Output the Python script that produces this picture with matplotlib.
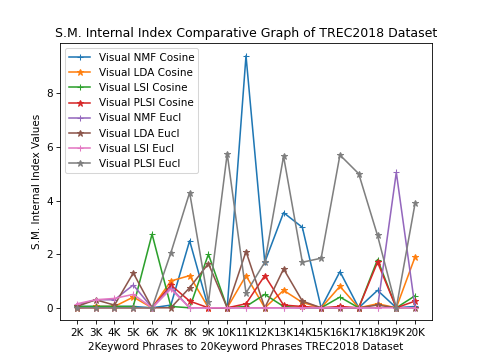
import matplotlib
matplotlib.use("Agg")
import matplotlib.pyplot as plt

categories = ["2K", "3K", "4K", "5K", "6K", "7K", "8K", "9K", "10K", "11K",
              "12K", "13K", "14K", "15K", "16K", "17K", "18K", "19K", "20K"]

nmf_cos  = [0.05, 0.05, 0.05, 0.05, 0.0, 0.1, 2.5, 0.0, 0.0, 9.4, 1.7, 3.55, 3.0, 0.0, 1.35, 0.0, 0.65, 0.0, 0.05]
lda_cos  = [0.0, 0.05, 0.05, 0.4, 0.0, 1.0, 1.2, 0.0, 0.0, 1.2, 0.0, 0.65, 0.2, 0.0, 0.8, 0.0, 0.15, 0.0, 1.9]
lsi_cos  = [0.05, 0.05, 0.05, 0.05, 2.75, 0.05, 0.0, 2.0, 0.0, 0.05, 0.5, 0.05, 0.0, 0.0, 0.4, 0.0, 1.8, 0.0, 0.45]
plsi_cos = [0.0, 0.0, 0.0, 0.0, 0.0, 0.85, 0.25, 0.0, 0.0, 0.15, 1.2, 0.1, 0.05, 0.0, 0.05, 0.0, 1.7, 0.0, 0.25]
nmf_eu   = [0.1, 0.3, 0.3, 0.85, 0.0, 0.75, 0.0, 0.0, 0.0, 0.0, 0.0, 0.0, 0.0, 0.0, 0.0, 0.0, 0.0, 5.05, 0.0]
lda_eu   = [0.05, 0.3, 0.1, 1.3, 0.0, 0.0, 0.75, 1.65, 0.0, 2.1, 0.0, 1.45, 0.25, 0.0, 0.0, 0.0, 0.1, 0.0, 0.0]
lsi_eu   = [0.15, 0.3, 0.35, 0.5, 0.0, 0.7, 0.0, 0.0, 0.0, 0.0, 0.0, 0.0, 0.0, 0.0, 0.0, 0.0, 0.0, 0.0, 0.0]
plsi_eu  = [0.0, 0.0, 0.0, 0.0, 0.0, 2.05, 4.3, 0.2, 5.75, 0.55, 1.7, 5.65, 1.7, 1.85, 5.7, 5.0, 2.7, 0.0, 3.9]

series = [
    ("Visual NMF Cosine", nmf_cos, "+"),
    ("Visual LDA Cosine", lda_cos, "*"),
    ("Visual LSI Cosine", lsi_cos, "+"),
    ("Visual PLSI Cosine", plsi_cos, "*"),
    ("Visual NMF Eucl", nmf_eu, "+"),
    ("Visual LDA Eucl", lda_eu, "*"),
    ("Visual LSI Eucl", lsi_eu, "+"),
    ("Visual PLSI Eucl", plsi_eu, "*"),
]

fig, ax = plt.subplots(figsize=(6.4, 4.8), dpi=75)
for label, vals, m in series:
    ax.plot(categories, vals, marker=m, label=label)

ax.set_title("S.M. Internal Index Comparative Graph of TREC2018 Dataset")
ax.set_xlabel("2Keyword Phrases to 20Keyword Phrases TREC2018 Dataset")
ax.set_ylabel("S.M. Internal Index Values")
ax.legend(loc="upper left")
fig.savefig("out.png", dpi=75)
